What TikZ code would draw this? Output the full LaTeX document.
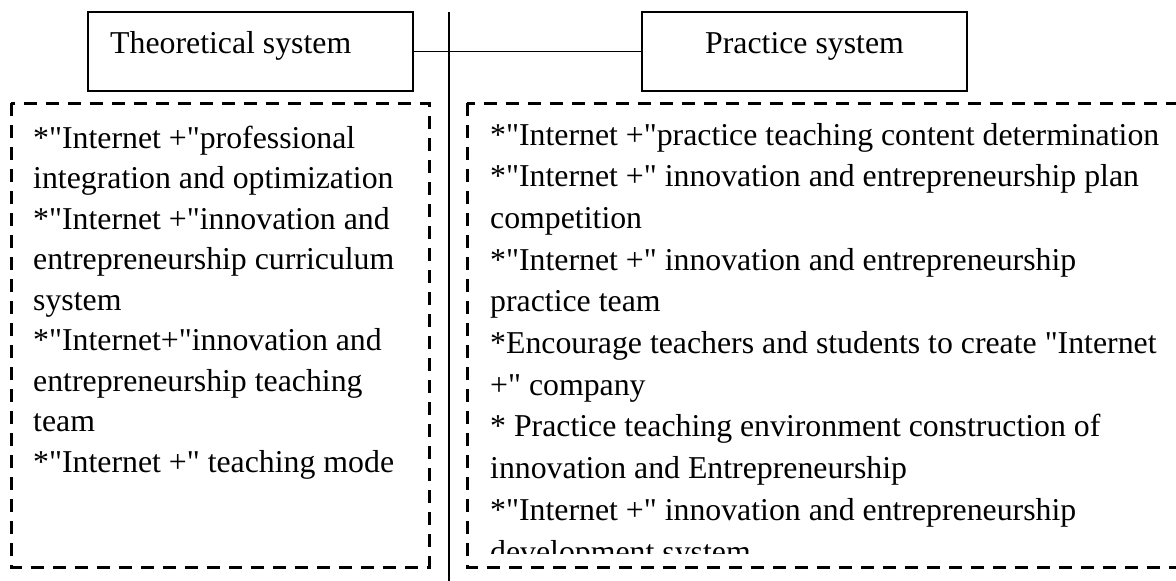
\documentclass[tikz,border=0pt]{standalone}
\usepackage{fontspec}
\newfontfamily\tnr{Liberation Serif}
\begin{document}
\begin{tikzpicture}[x=1pt,y=-1pt,
  sysbox/.style={draw=black, line width=1.5pt, inner sep=0pt},
  solid line/.style={draw=black, line width=1.5pt},
  dashbox/.style={draw=black, line width=3pt, dash pattern=on 13pt off 9pt},
  txt/.style={inner sep=0pt, anchor=base west, font=\tnr\fontsize{31.8}{40}\selectfont},
  ctxt/.style={inner sep=0pt, anchor=base, font=\tnr\fontsize{31.8}{40}\selectfont}]
\useasboundingbox (0,0) rectangle (1176,581);
\clip (0,0) rectangle (1176,581);
% header boxes
\node[sysbox, minimum width=325pt, minimum height=79pt] (theo) at (250.5,51.5) {};
\node[txt] (theot) at (110,53) {Theoretical system};
\node[sysbox, minimum width=325pt, minimum height=79pt] (prac) at (804.5,51.5) {};
\node[ctxt] (pract) at (804.5,53) {Practice system};
\draw[solid line] (theo.east) -- (prac.west);
% vertical divider
\coordinate (vtop) at (449,12);
\coordinate (vbot) at (449,585);
\draw[solid line] (vtop) -- (vbot);
% dashed boxes
\coordinate (lbnw) at (11,103);
\coordinate (lbse) at (429,567);
\coordinate (rbnw) at (467,103);
\coordinate (rbse) at (1195,567);
\draw[dashbox] (lbnw) rectangle (lbse);
\draw[dashbox] (rbnw) rectangle (rbse);
% left text
\node[txt] (l1) at (33,148.0) {*"Internet +"professional};
\node[txt] (l2) at (33,188.5) {integration and optimization};
\node[txt] (l3) at (33,229.0) {*"Internet +"innovation and};
\node[txt] (l4) at (33,269.5) {entrepreneurship curriculum};
\node[txt] (l5) at (33,310.0) {system};
\node[txt] (l6) at (33,350.5) {*"Internet+"innovation and};
\node[txt] (l7) at (33,391.0) {entrepreneurship teaching};
\node[txt] (l8) at (33,431.5) {team};
\node[txt] (l9) at (33,472.0) {*"Internet +" teaching mode};
% right text
\begin{scope}
\clip (467,103) rectangle (1176,553);
\node[txt] (r1) at (490,145.0) {*"Internet +"practice teaching content determination};
\node[txt] (r2) at (490,186.7) {*"Internet +" innovation and entrepreneurship plan};
\node[txt] (r3) at (490,228.4) {competition};
\node[txt] (r4) at (490,270.1) {*"Internet +" innovation and entrepreneurship};
\node[txt] (r5) at (490,311.8) {practice team};
\node[txt] (r6) at (490,353.5) {*Encourage teachers and students to create "Internet};
\node[txt] (r7) at (490,395.2) {+" company};
\node[txt] (r8) at (490,436.9) {* Practice teaching environment construction of};
\node[txt] (r9) at (490,478.6) {innovation and Entrepreneurship};
\node[txt] (r10) at (490,520.3) {*"Internet +" innovation and entrepreneurship};
\node[txt] (r11) at (490,562.0) {development system};
\end{scope}
\end{tikzpicture}
\end{document}
